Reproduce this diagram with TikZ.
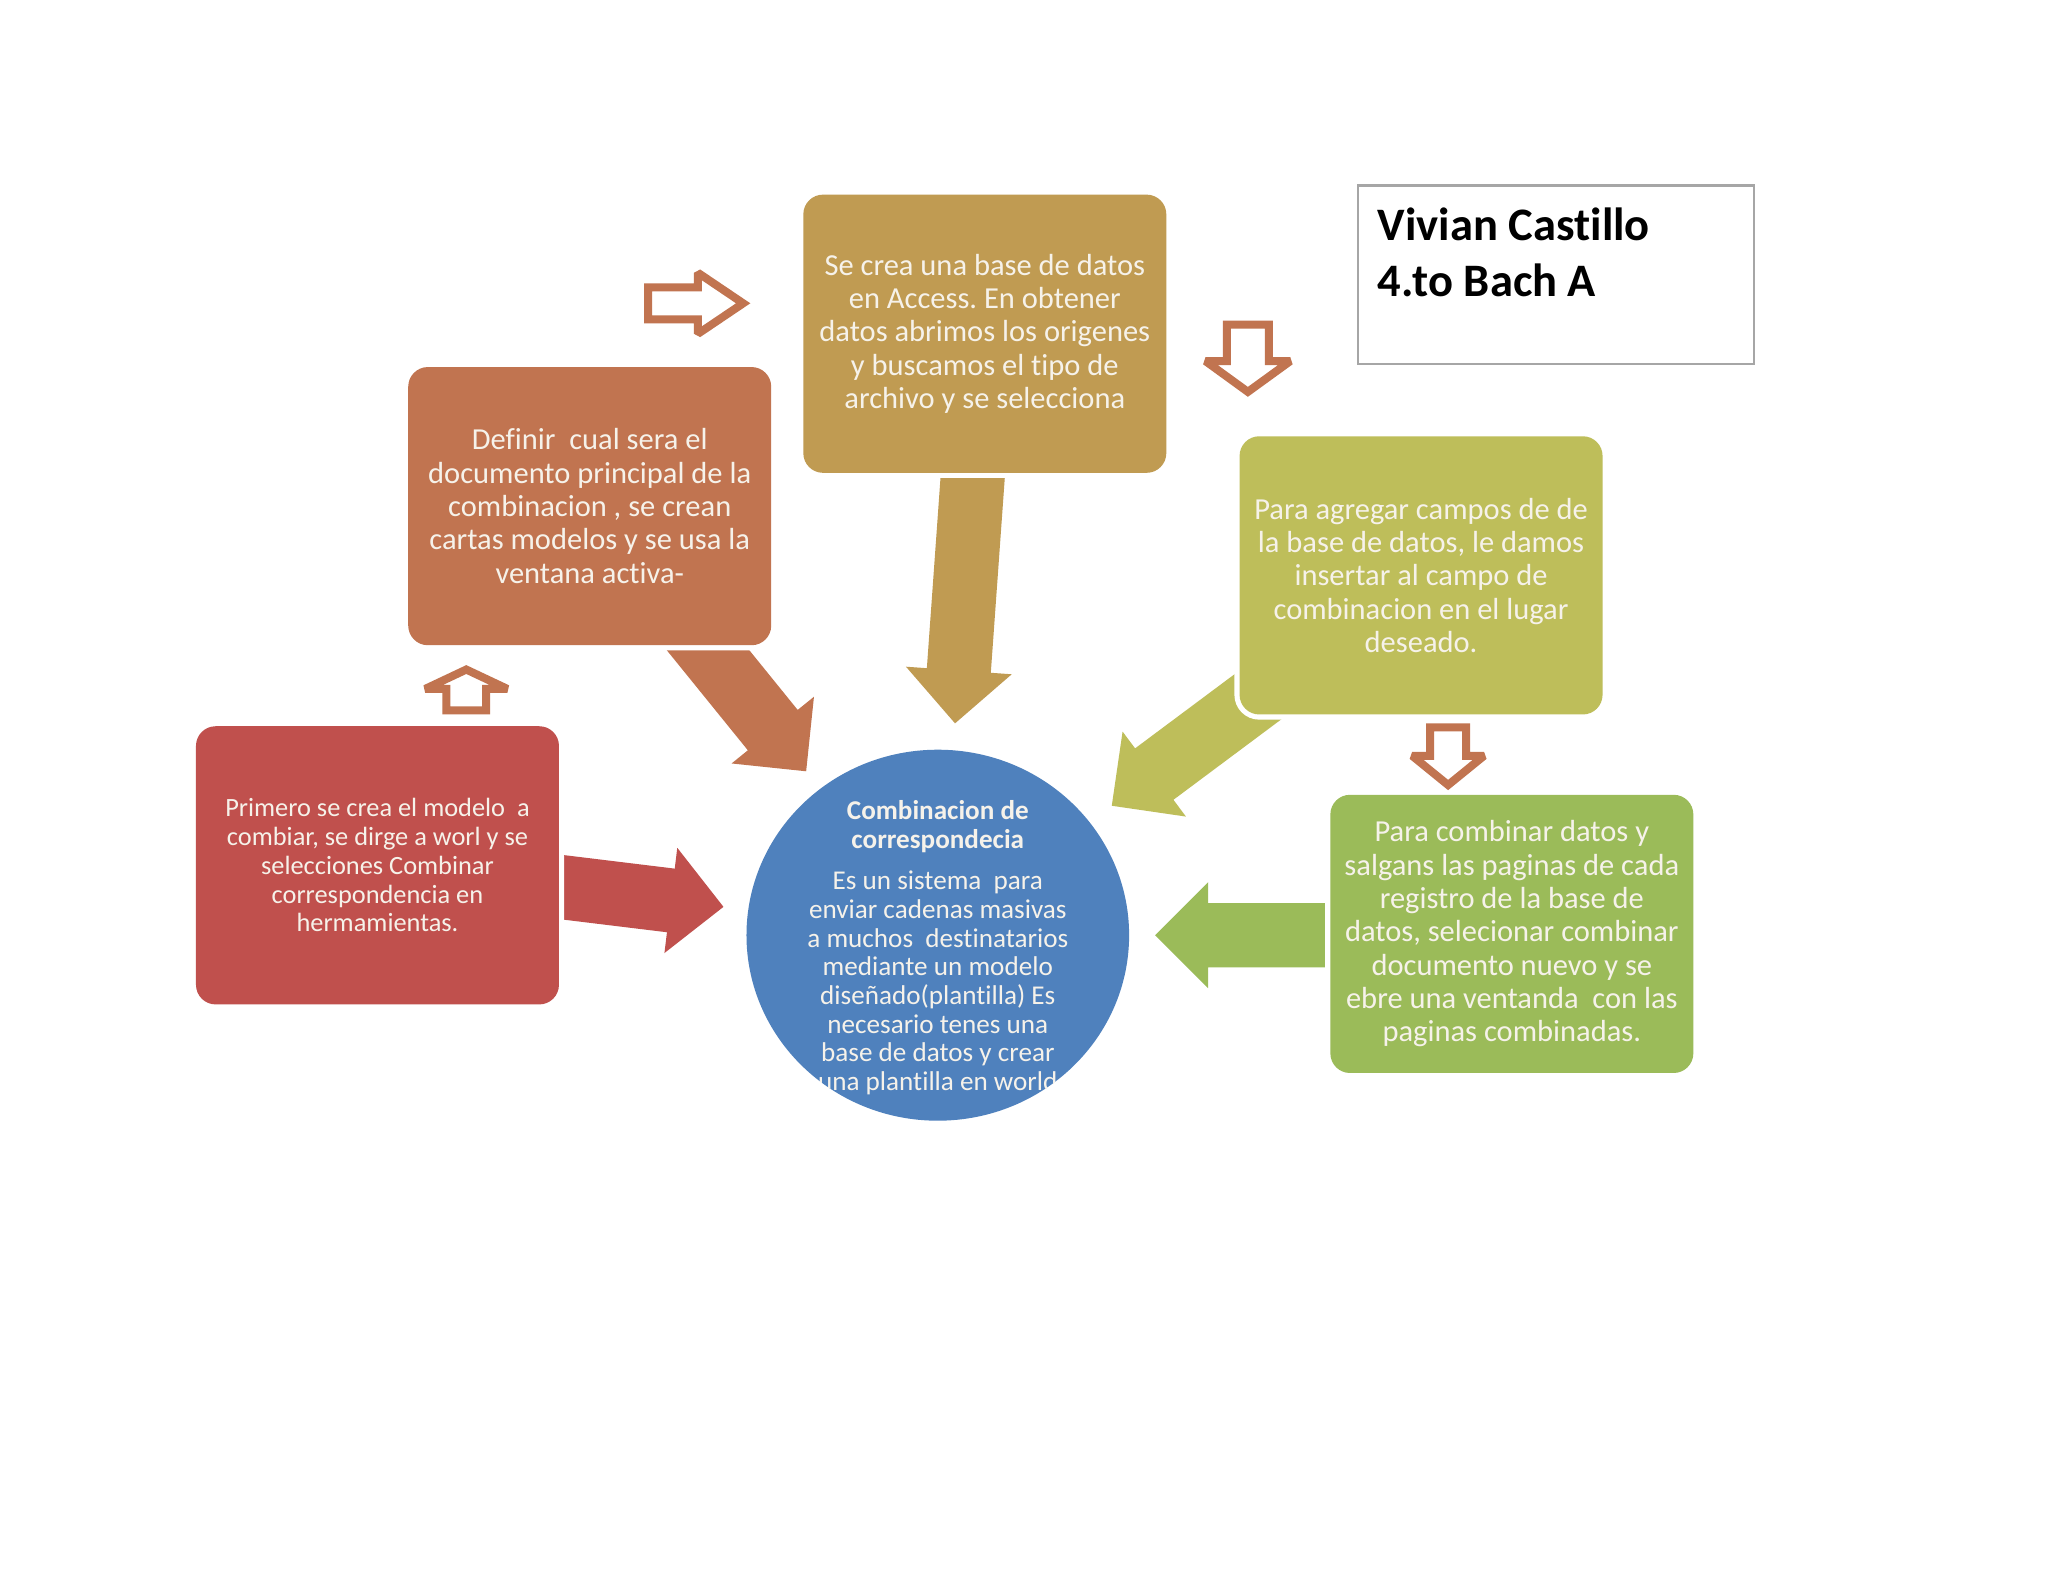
\documentclass[tikz,border=0pt]{standalone}
\usepackage{fontspec}
\setmainfont{Carlito}[Ligatures=NoCommon]
\frenchspacing
\usetikzlibrary{calc,shapes.geometric,backgrounds}

\definecolor{brick}{HTML}{C0504D}
\definecolor{clay}{HTML}{C17450}
\definecolor{ochre}{HTML}{C09B52}
\definecolor{pear}{HTML}{BEBE5A}
\definecolor{leaf}{HTML}{9BBB59}
\definecolor{ocean}{HTML}{4F81BD}
\definecolor{paper}{HTML}{F6F2EA}
\definecolor{frame}{HTML}{A6A6A6}

% block arrow: [style]{from}{tip}{shaft half width}{head half width}{head length}
\newcommand{\blockarrow}[6][bigarrow]{%
  \coordinate (ba-base) at ($(#3)!#6!(#2)$);
  \path[#1] ($(#2)!#4!90:(#3)$) -- ($(ba-base)!#4!90:(#3)$)
    -- ($(ba-base)!#5!90:(#3)$) -- (#3)
    -- ($(ba-base)!#5!-90:(#3)$) -- ($(ba-base)!#4!-90:(#3)$)
    -- ($(#2)!#4!-90:(#3)$) -- cycle
}

\tikzset{
  stepbox/.style={
    rectangle, rounded corners=7.6pt, fill=#1, text=paper,
    preaction={draw=white, line width=4pt},
    minimum width=140.4pt, minimum height=107.6pt,
    font=\fontsize{11.8}{12.9}\selectfont, align=center, inner sep=2pt
  },
  stepbox/.default=clay,
  bigarrow/.style={fill=#1},
  bigarrow/.default=clay,
  hollowarrow/.style={
    draw=#1, fill=white, line width=3.1pt, line join=miter, miter limit=2
  },
  hollowarrow/.default=clay,
  hubdisc/.style={
    ellipse, fill=ocean, inner sep=0pt,
    minimum width=148pt, minimum height=143.5pt
  },
  hubtext/.style={
    text=paper, font=\fontsize{10.5}{11.1}\selectfont,
    align=center, inner sep=0pt
  },
  namebox/.style={
    rectangle, draw=frame, line width=0.8pt, fill=white,
    minimum width=153.1pt, minimum height=69.2pt
  },
  nametext/.style={
    font=\fontsize{18}{21.7}\selectfont\bfseries,
    align=left, inner sep=0pt, anchor=north west
  },
}

\begin{document}
\begin{tikzpicture}[x=0.5052pt, y=-0.5052pt]
  \useasboundingbox (0,0) rectangle (1568,1211);

  % Steps
  \node[stepbox=brick, font=\fontsize{10.2}{11.1}\selectfont] (modelo) at (289,662.5)
    {Primero se crea el modelo~ a\\combiar, se dirge a worl y se\\selecciones Combinar\\correspondencia en\\hermamientas.};
  \node[stepbox=clay] (principal) at (451.5,387.5)
    {Definir~ cual sera el\\documento principal de la\\combinacion , se crean\\cartas modelos y se usa la\\ventana activa-};
  \node[stepbox=ochre] (datos) at (754,255.5)
    {Se crea una base de datos\\en Access. En obtener\\datos abrimos los origenes\\y buscamos el tipo de\\archivo y se selecciona};
  \node[stepbox=pear] (campos) at (1088,440.5)
    {Para agregar campos de de\\la base de datos, le damos\\insertar al campo de\\combinacion en el lugar\\deseado.};
  \node[stepbox=leaf] (combinar) at (1157.5,715)
    {Para combinar datos y\\salgans las paginas de cada\\registro de la base de\\datos, selecionar combinar\\documento nuevo y se\\ebre una ventanda~ con las\\paginas combinadas.};

  % Centre
  \node[hubdisc] (hub) at (718,716) {};
  \begin{scope}
    \clip (hub.center) ellipse [x radius=74pt, y radius=71.75pt];
    \node[hubtext] (hubText) at (718,725.5)
      {\textbf{Combinacion de}\\\textbf{correspondecia}\\[5pt]Es un sistema~ para\\enviar cadenas masivas\\a muchos~ destinatarios\\mediante un modelo\\diseñado(plantilla) Es\\necesario tenes una\\base de datos y crear\\una plantilla en world};
  \end{scope}

  % Name
  \node[namebox] (nameBox) at (1191.5,210.5) {};
  \node[nametext] (nameText) at (1054.5,159) {Vivian Castillo\\4.to Bach A};

  % Arrows into the centre
  \coordinate (modeloS) at ($(modelo.east)+(-8,15.5)$);
  \coordinate (modeloT) at (553.9,694.3);
  \coordinate (principalS) at ($(principal.south)+(70,-22)$);
  \coordinate (principalT) at (617.2,590.5);
  \coordinate (datosS) at ($(datos.south)+(-8,-15)$);
  \coordinate (datosT) at (731.2,553.8);
  \coordinate (camposS) at ($(campos.south west)+(36.8,-30.6)$);
  \coordinate (camposT) at (851.2,616.9);
  \coordinate (combinarS) at ($(combinar.west)+(12,1)$);
  \coordinate (combinarT) at (884.4,716);
  \begin{scope}[on background layer]
    \fill[white] (0,0) rectangle (1568,1211);
    \foreach \col/\from/\to in {brick/modeloS/modeloT, clay/principalS/principalT,
        ochre/datosS/datosT, pear/camposS/camposT, leaf/combinarS/combinarT}
      \blockarrow[bigarrow=\col]{\from}{\to}{12.4pt}{20.5pt}{20.5pt};
  \end{scope}

  % Small arrows between the steps
  \coordinate (upS) at (357,543.9);
  \coordinate (upT) at (357,512.6);
  \coordinate (rightS) at (496.2,232.2);
  \coordinate (rightT) at (569,232.2);
  \coordinate (downS) at (955.4,248.6);
  \coordinate (downT) at (955.4,300);
  \coordinate (down2S) at (1108.7,556.9);
  \coordinate (down2T) at (1108.7,601);
  \blockarrow[hollowarrow]{upS}{upT}{7.7pt}{15.9pt}{7.5pt};
  \blockarrow[hollowarrow]{rightS}{rightT}{6.2pt}{11.8pt}{17.5pt};
  \blockarrow[hollowarrow]{downS}{downT}{8.1pt}{16.4pt}{11.9pt};
  \blockarrow[hollowarrow]{down2S}{down2T}{7pt}{13.9pt}{11.3pt};
\end{tikzpicture}
\end{document}
